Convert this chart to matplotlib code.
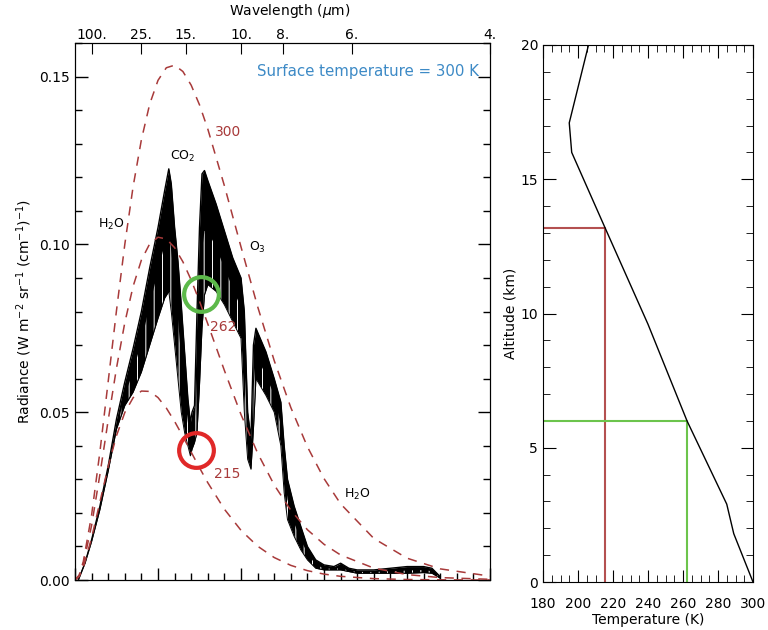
import matplotlib
matplotlib.use("Agg")
import matplotlib.pyplot as plt
from matplotlib.ticker import MultipleLocator, FormatStrFormatter

# ---------------- data ----------------
# Planck reference curves, wavenumber in cm^-1
planck_nu = [0, 25, 50, 100, 150, 200, 250, 300, 350, 400, 450, 500, 550, 600, 650,
             700, 750, 800, 900, 1000, 1100, 1200, 1300, 1400, 1500, 1600, 1800,
             2000, 2200, 2500]
planck_300 = [0.0, 0.00146, 0.00549, 0.01935, 0.03817, 0.05919, 0.08032, 0.1000,
              0.1172, 0.1312, 0.1418, 0.14887, 0.15262, 0.15339, 0.15151, 0.14742,
              0.14158, 0.13437, 0.11746, 0.09925, 0.0815, 0.06537, 0.0514, 0.0397,
              0.03022, 0.02269, 0.01238, 0.006504, 0.003318, 0.001155]
planck_262 = [0.0, 0.001265, 0.004712, 0.01628, 0.03143, 0.04766, 0.06315, 0.07668,
              0.0875, 0.09533, 0.10016, 0.10213, 0.10162, 0.09903, 0.09481, 0.08935,
              0.08306, 0.07631, 0.06242, 0.0493, 0.03782, 0.02832, 0.02078, 0.01498,
              0.01064, 0.007454, 0.003539, 0.001618, 0.000719, 0.000203]
planck_215 = [0.0, 0.001022, 0.003747, 0.0125, 0.02325, 0.03387, 0.0430, 0.0499,
              0.0543, 0.0563, 0.05619, 0.05436, 0.05124, 0.04726, 0.04277, 0.03809,
              0.03344, 0.02898, 0.02109, 0.0148, 0.01008, 0.006699, 0.004361, 0.002789,
              0.001757, 0.001092, 0.000408, 0.000147, 0.0000512, 0.0000101]

# Measured spectrum: upper / middle / lower envelope of the dense line spectrum
spec_nu = [20, 60, 100, 150, 200, 250, 300, 350, 400, 450, 500, 540, 565, 580, 600,
           620, 640, 660, 680, 695, 705, 720, 735, 750, 765, 780, 800, 850, 900, 950,
           1000, 1020, 1040, 1060, 1075, 1090, 1150, 1200, 1240, 1260, 1280, 1320,
           1360, 1400, 1450, 1500, 1560, 1600, 1650, 1700, 1800, 1900, 2000, 2100,
           2150, 2200]
spec_upper = [0.000, 0.005, 0.0120, 0.0220, 0.0340, 0.0480, 0.0590, 0.0690, 0.0800,
              0.0930, 0.1050, 0.1160, 0.1225, 0.1180, 0.1050, 0.0950, 0.0820, 0.0680,
              0.0540, 0.0470, 0.0500, 0.0520, 0.0800, 0.1050, 0.1210, 0.1220, 0.1190,
              0.1120, 0.1040, 0.0960, 0.0900, 0.0800, 0.0500, 0.0420, 0.0700, 0.0750,
              0.0680, 0.0600, 0.0530, 0.0400, 0.0300, 0.0220, 0.0160, 0.0100, 0.0060,
              0.0045, 0.0040, 0.0050, 0.0035, 0.0030, 0.0030, 0.0035, 0.0040, 0.0040,
              0.0035, 0.0010]
spec_mid = [0.000, 0.005, 0.0115, 0.0210, 0.0325, 0.0450, 0.0550, 0.0620, 0.0710,
            0.0820, 0.0920, 0.1000, 0.1040, 0.0980, 0.0880, 0.0780, 0.0660, 0.0560,
            0.0470, 0.0420, 0.0440, 0.0460, 0.0600, 0.0800, 0.0980, 0.1040, 0.1040,
            0.0990, 0.0930, 0.0870, 0.0810, 0.0650, 0.0430, 0.0370, 0.0570, 0.0670,
            0.0610, 0.0550, 0.0460, 0.0330, 0.0240, 0.0170, 0.0120, 0.0080, 0.0045,
            0.0035, 0.0033, 0.0035, 0.0028, 0.0024, 0.0024, 0.0026, 0.0028, 0.0030,
            0.0026, 0.0007]
spec_lower = [0.000, 0.005, 0.0115, 0.0210, 0.0325, 0.0450, 0.0520, 0.0560, 0.0620,
              0.0700, 0.0780, 0.0840, 0.0860, 0.0800, 0.0700, 0.0600, 0.0500, 0.0440,
              0.0400, 0.0370, 0.0390, 0.0410, 0.0440, 0.0580, 0.0750, 0.0850, 0.0880,
              0.0860, 0.0820, 0.0770, 0.0720, 0.0500, 0.0360, 0.0330, 0.0450, 0.0600,
              0.0550, 0.0500, 0.0400, 0.0260, 0.0180, 0.0130, 0.0090, 0.0060, 0.0035,
              0.0030, 0.0030, 0.0030, 0.0025, 0.0020, 0.0020, 0.0020, 0.0020, 0.0022,
              0.0020, 0.0005]

wavelength_ticks = [100, 25, 15, 10, 8, 6, 4]
wavelength_labels = ["100.", "25.", "15.", "10.", "8.", "6.", "4."]

# Temperature profile
profile_temp = [300, 289, 285, 262.3, 240, 215.4, 196.4, 195, 206]
profile_alt = [0, 1.8, 2.9, 6.0, 9.6, 13.2, 16.0, 17.1, 20]
red_T, red_z = 215.4, 13.2
green_T, green_z = 262.3, 6.0

# ---------------- figure ----------------
plt.rcParams['font.family'] = ['DejaVu Sans']
plt.rcParams['hatch.linewidth'] = 0.7
W, H = 768, 630
fig = plt.figure(figsize=(W / 100, H / 100), dpi=100)

dash_col = '#a83a3a'
ax = fig.add_axes([75/W, 1-580/H, (490-75)/W, (580-43)/H])
ax.set_xlim(0, 2500)
ax.set_ylim(0, 0.16)

for yv in (planck_300, planck_262, planck_215):
    ax.plot(planck_nu, yv, color=dash_col, lw=1.1, dashes=(6, 5), zorder=3)

ax.fill_between(spec_nu, spec_lower, spec_upper, color='black', lw=0, zorder=2)
ax.fill_between(spec_nu, spec_lower, spec_mid, facecolor='none', edgecolor='white',
                hatch='||', lw=0, zorder=2.1)
ax.plot(spec_nu, spec_upper, color='black', lw=1.0, zorder=2.2)
ax.plot(spec_nu, spec_lower, color='black', lw=0.7, zorder=2.2)

# circles
ax.plot([760], [0.0852], marker='o', ms=25, mfc='none', mec='#5cb94a', mew=3, zorder=5)
ax.plot([730], [0.0388], marker='o', ms=25, mfc='none', mec='#e02828', mew=3, zorder=5)

lab_col = '#a83a3a'
ax.text(840, 0.1336, '300', color=lab_col, fontsize=10, va='center', zorder=6)
ax.text(815, 0.0755, '262', color=lab_col, fontsize=10, va='center', zorder=6)
ax.text(840, 0.0315, '215', color=lab_col, fontsize=10, va='center', zorder=6)
ax.text(650, 0.1262, 'CO$_2$', color='black', fontsize=9, ha='center', va='center')
ax.text(220, 0.1060, 'H$_2$O', color='black', fontsize=9, ha='center', va='center')
ax.text(1100, 0.0990, 'O$_3$', color='black', fontsize=9, ha='center', va='center')
ax.text(1700, 0.0255, 'H$_2$O', color='black', fontsize=9, ha='center', va='center')
ax.text(2430, 0.1515, 'Surface temperature = 300 K', color='#3d8ac6', fontsize=10.8,
        ha='right', va='center')

ax.set_ylabel('Radiance (W m$^{-2}$ sr$^{-1}$ (cm$^{-1}$)$^{-1}$)', fontsize=10)
ax.yaxis.set_major_locator(MultipleLocator(0.05))
ax.yaxis.set_minor_locator(MultipleLocator(0.01))
ax.yaxis.set_major_formatter(FormatStrFormatter('%.2f'))
ax.xaxis.set_major_locator(MultipleLocator(500))
ax.xaxis.set_minor_locator(MultipleLocator(100))
ax.tick_params(axis='x', which='both', labelbottom=False, direction='in', top=False)
ax.tick_params(axis='y', which='both', direction='in', right=True, labelsize=10)
ax.tick_params(which='major', length=9, width=1)
ax.tick_params(which='minor', length=5, width=1)

axt = ax.twiny()
axt.set_xlim(ax.get_xlim())
axt.set_xticks([1e4 / w for w in wavelength_ticks])
axt.set_xticklabels(wavelength_labels, fontsize=10)
axt.tick_params(axis='x', direction='in', length=8, pad=1)
fig.text(290/W, 1-11/H, 'Wavelength ($\\mu$m)', fontsize=10, ha='center', va='center')

# right panel
ax2 = fig.add_axes([543/W, 1-582/H, (753-543)/W, (582-45)/H])
ax2.set_xlim(180, 300)
ax2.set_ylim(0, 20)
ax2.plot([180, red_T, red_T], [red_z, red_z, 0], color='#b45050', lw=1.5)
ax2.plot([180, green_T, green_T], [green_z, green_z, 0], color='#6cc44c', lw=1.5)
ax2.plot(profile_temp, profile_alt, color='black', lw=1.0)
ax2.xaxis.set_major_locator(MultipleLocator(20))
ax2.xaxis.set_minor_locator(MultipleLocator(5))
ax2.yaxis.set_major_locator(MultipleLocator(5))
ax2.yaxis.set_minor_locator(MultipleLocator(1))
ax2.tick_params(which='both', direction='in', top=True, right=True, labelsize=10)
ax2.tick_params(axis='x', which='both', pad=11)
ax2.tick_params(which='major', length=9)
ax2.tick_params(which='minor', length=5)
ax2.set_xlabel('Temperature (K)', fontsize=10, labelpad=1)
ax2.set_ylabel('Altitude (km)', fontsize=10, labelpad=2)

fig.savefig('out.png', dpi=100)
